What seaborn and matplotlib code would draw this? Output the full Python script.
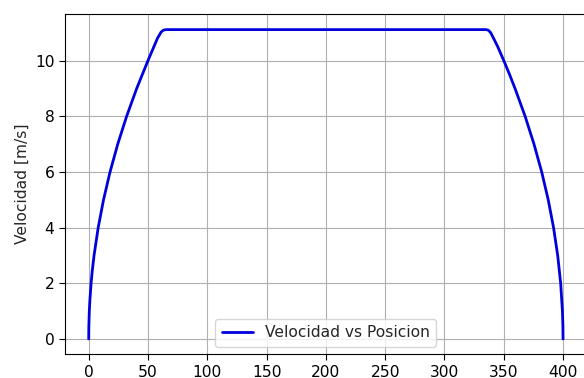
"""
Velocidad vs posicion: aceleracion, tramo a velocidad constante y frenado
"""
import pandas as pd
import seaborn as sns
import matplotlib.pyplot as plt

# puntos (posicion [m], velocidad [m/s])
posicion = [0, 0.1, 0.5, 1, 2, 3, 4.5, 8, 12.5, 18, 24.5, 32, 40.5, 50, 58, 61, 63, 65,
            335, 337, 339, 342, 345, 350, 355, 360, 368, 375.5, 382, 387.5, 392,
            395.5, 398, 399.5, 399.9, 400]
velocidad = [0, 0.45, 1.0, 1.4, 2.0, 2.45, 3.0, 4.0, 5.0, 6.0, 7.0, 8.0, 9.0, 10.0, 10.8, 11.02, 11.09, 11.11,
             11.11, 11.09, 11.0, 10.75, 10.49, 10.0, 9.49, 8.94, 8.0, 7.0, 6.0, 5.0, 4.0,
             3.0, 2.0, 1.0, 0.45, 0]

df = pd.DataFrame({"x": posicion, "v": velocidad})

sns.set_style("ticks")
plt.rcParams["font.size"] = 11.2
fig = plt.figure(figsize=(5.84, 3.78), dpi=100)
ax = fig.add_axes([0.1113, 0.0624, 0.8934, 0.9005])
sns.lineplot(x="x", y="v", data=df, ax=ax, sort=False, color="#0000dd", linewidth=2,
             label="Velocidad vs Posicion")
ax.set_xlim(-20, 420)
ax.set_ylim(-0.556, 11.67)
ax.set_xticks(range(0, 401, 50))
ax.set_yticks(range(0, 11, 2))
ax.set_xlabel("")
ax.set_ylabel("Velocidad [m/s]", fontsize=11.2)
ax.grid(True, color="#b0b0b0", linewidth=0.8)
for s in ax.spines.values():
    s.set_color("black")
    s.set_linewidth(0.8)
ax.tick_params(colors="black", direction="out", length=4, width=0.8, labelsize=11.2)
ax.legend(loc="lower center", framealpha=0.8, fontsize=11.2)
plt.savefig("out.png", dpi=100)
